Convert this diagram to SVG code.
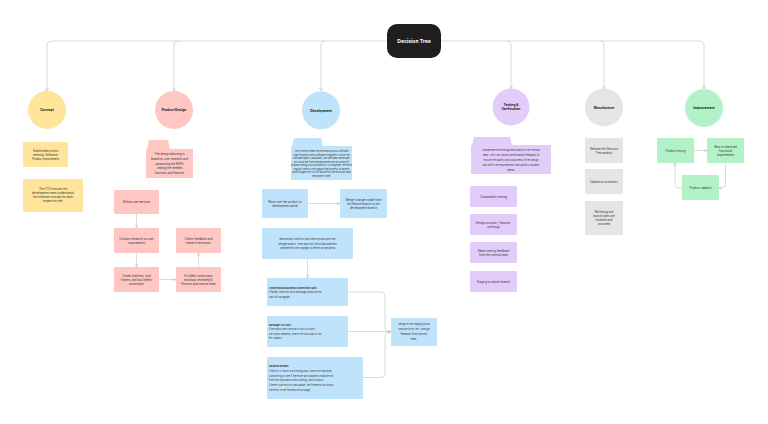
<svg xmlns="http://www.w3.org/2000/svg" width="768" height="424" viewBox="0 0 768 424">
<defs>
<marker id="ah" markerUnits="userSpaceOnUse" markerWidth="4" markerHeight="4" viewBox="0 0 4 4" refX="3.6" refY="2" orient="auto">
<path d="M0.4,0.4 L3.6,2 L0.4,3.6" fill="none" stroke="#b8b8b8" stroke-width="0.5"/>
</marker>
<style>
.c{stroke:#c2c2c2;stroke-width:0.6;fill:none}
.t{font-family:Inter,"Liberation Sans",sans-serif;font-size:2.8px;fill:#333;text-anchor:middle}
.s{font-size:2.45px}
.l{text-anchor:start}
.b{font-weight:bold}
.h{font-family:Inter,"Liberation Sans",sans-serif;font-size:3.3px;font-weight:bold;fill:#222;text-anchor:middle}
.y{fill:#FFE49C}.p{fill:#FFC7C3}.u{fill:#BFE3FB}.v{fill:#E2CCFA}.g{fill:#E5E5E5}.n{fill:#B3F2C9}
</style>
</defs>
<rect width="768" height="424" fill="#fff"/>

<g id="connectors">
<path class="c" marker-end="url(#ah)" d="M387,41 H51 Q47,41 47,45 V91"/>
<path class="c" marker-end="url(#ah)" d="M178,41 Q174,41 174,45 V91"/>
<path class="c" marker-end="url(#ah)" d="M325,41 Q321,41 321,45 V91"/>
<path class="c" marker-end="url(#ah)" d="M441,41 H700 Q704,41 704,45 V89"/>
<path class="c" marker-end="url(#ah)" d="M507,41 Q511,41 511,45 V88.5"/>
<path class="c" marker-end="url(#ah)" d="M600,41 Q604,41 604,45 V89"/>
<!-- product design -->
<path class="c" marker-end="url(#ah)" d="M136.5,214 V228"/>
<path class="c" marker-end="url(#ah)" d="M136.5,253 V267"/>
<path class="c" marker-end="url(#ah)" d="M159,279.5 H176"/>
<path class="c" marker-end="url(#ah)" d="M198.5,267 V253"/>
<!-- development -->
<path class="c" marker-end="url(#ah)" d="M308,203.5 H340"/>
<path class="c" marker-end="url(#ah)" d="M307.5,259 V278"/>
<path class="c" marker-end="url(#ah)" d="M348,292 H381 Q385,292 385,296 V328 Q385,332 389,332 H391"/>
<path class="c" marker-end="url(#ah)" d="M348,331.5 H391"/>
<path class="c" d="M363,377.5 H381 Q385,377.5 385,373.5 V336 Q385,332 389,332"/>
<!-- improvement -->
<path class="c" marker-end="url(#ah)" d="M694,150.5 H707"/>
<path class="c" marker-end="url(#ah)" d="M725.5,163 V184 Q725.5,188 721.5,188 H719"/>
<path class="c" marker-end="url(#ah)" d="M682,188 H679 Q675,188 675,184 V163"/>
</g>

<g id="title">
<rect x="387" y="24" width="54" height="34" rx="10" fill="#1E1E1E"/>
<text x="414" y="42.7" font-family="Inter,'Liberation Sans',sans-serif" font-size="5px" font-weight="bold" fill="#fff" text-anchor="middle">Decision Tree</text>
</g>

<g id="concept">
<circle class="y" cx="47" cy="110" r="19"/>
<text class="h" x="47" y="111.2">Concept</text>
</g>
<g id="concept-1">
<rect class="y" x="23" y="142" width="45" height="25" rx="1"/>
<text class="t" x="45.5" y="151.5">Stakeholders/client</text>
<text class="t" x="45.5" y="155.5">meeting: Software/</text>
<text class="t" x="45.5" y="159.5">Product requirement</text>
</g>
<g id="concept-2">
<rect class="y" x="23" y="179" width="60" height="33" rx="1"/>
<text class="t" x="53" y="190">The CTO ensures the</text>
<text class="t" x="53" y="194">development team understands</text>
<text class="t" x="53" y="198">the software concept for each</text>
<text class="t" x="53" y="202">respective role.</text>
</g>

<g id="product-design">
<circle class="p" cx="174" cy="110" r="19"/>
<text class="h" x="174" y="111.2">Product Design</text>
</g>
<g id="pd-note">
<path class="p" d="M147,149.5 L149,140 H168 L170,149.5 Z"/>
<rect class="p" x="146" y="149" width="47" height="29" rx="0.5"/>
<text class="t" x="169.5" y="155.1">The design planning is</text>
<text class="t" x="169.5" y="159.8">based on user research and</text>
<text class="t" x="169.5" y="164.5">pinpointing the MVPs</text>
<text class="t" x="169.5" y="169.2">among the needed</text>
<text class="t" x="169.5" y="173.9">functions and features</text>
</g>
<g id="pd-define">
<rect class="p" x="114" y="190" width="45" height="24" rx="1"/>
<text class="t" x="136.5" y="203">Define user persona</text>
</g>
<g id="pd-conduct">
<rect class="p" x="114" y="228" width="45" height="25" rx="1"/>
<text class="t" x="136.5" y="239.5">Conduct research on user</text>
<text class="t" x="136.5" y="243.5">requirements</text>
</g>
<g id="pd-create">
<rect class="p" x="114" y="267" width="45" height="25" rx="1"/>
<text class="t" x="136.5" y="276.5">Create sketches, wire</text>
<text class="t" x="136.5" y="280.5">frames, and low-fidelity</text>
<text class="t" x="136.5" y="284.5">prototypes</text>
</g>
<g id="pd-collect">
<rect class="p" x="176" y="228" width="45" height="25" rx="1"/>
<text class="t" x="198.5" y="239.5">Collect feedback and</text>
<text class="t" x="198.5" y="243.5">iterate if necessary</text>
</g>
<g id="pd-hifi">
<rect class="p" x="176" y="267" width="45" height="25" rx="1"/>
<text class="t" x="198.5" y="276.5">Hi-fidelity prototypes/</text>
<text class="t" x="198.5" y="280.5">mockups reviewed by</text>
<text class="t" x="198.5" y="284.5">Process and internal team</text>
</g>

<g id="development">
<circle class="u" cx="321" cy="110.5" r="19"/>
<text class="h" x="321" y="111.7">Development</text>
</g>
<g id="dev-note">
<path class="u" d="M292,146.5 L294,138 H321 L323,146.5 Z"/>
<rect class="u" x="291" y="146" width="61" height="34" rx="0.5"/>
<text class="t s" x="321.5" y="152">The Process team review and discuss software</text>
<text class="t s" x="321.5" y="155.6">specifications with Software Engineers. Once the</text>
<text class="t s" x="321.5" y="159.1">software plan is available, the software developer</text>
<text class="t s" x="321.5" y="162.7">will build the front end and execute the whole of</text>
<text class="t s" x="321.5" y="166.3">product design as provided by UX Engineer. Perform</text>
<text class="t s" x="321.5" y="169.9">regular checks throughout the process to assess</text>
<text class="t s" x="321.5" y="173.4">and mitigate the risk of failure for the end user and</text>
<text class="t s" x="321.5" y="177">the project itself.</text>
</g>
<g id="dev-move">
<rect class="u" x="262" y="189" width="46" height="29" rx="1"/>
<text class="t" x="285" y="202.5">Move over the product to</text>
<text class="t" x="285" y="206.5">development portal</text>
</g>
<g id="dev-merge">
<rect class="u" x="340" y="189" width="47" height="29" rx="1"/>
<text class="t" x="363.5" y="200.5">Merge changes made from</text>
<text class="t" x="363.5" y="204.5">the feature branch to the</text>
<text class="t" x="363.5" y="208.5">development branch</text>
</g>
<g id="dev-resolve">
<rect class="u" x="262" y="228" width="91" height="31" rx="1"/>
<text class="t s" x="307.5" y="240">Resolve any conflicts that come up and push the</text>
<text class="t s" x="307.5" y="244.7">merged branch. Then wait until the Gitlab pipelines</text>
<text class="t s" x="307.5" y="249.4">complete for the changes to reflect on devportal</text>
</g>
<g id="dev-frontend">
<rect class="u" x="267" y="278" width="81" height="28" rx="1"/>
<text class="t s l b" x="269" y="288.7">Frontend and Backend Connection Fails:</text>
<text class="t s l" x="269" y="293.3">If failed, there will be a message output at the</text>
<text class="t s l" x="269" y="298">start of a program.</text>
</g>
<g id="dev-message">
<rect class="u" x="267" y="316" width="81" height="31" rx="1"/>
<text class="t s l b" x="269" y="326">Message API Fails:</text>
<text class="t s l" x="269" y="330.4">If the back-end console is tuck in a GET-</text>
<text class="t s l" x="269" y="334.8">OPTIONS requests, check the MSG api or call</text>
<text class="t s l" x="269" y="339.2">for support.</text>
</g>
<g id="dev-backend">
<rect class="u" x="267" y="357" width="96" height="42" rx="1"/>
<text class="t s l b" x="269" y="367">Backend Breaks:</text>
<text class="t s l" x="269" y="371.8">If the DT is stuck in a running loop, check the backend</text>
<text class="t s l" x="269" y="376.6">console log to see if there are any problems that are not</text>
<text class="t s l" x="269" y="381.4">from the calculation step (setting, result output).</text>
<text class="t s l" x="269" y="386.2">If there is an error in calculation, the frontend will output</text>
<text class="t s l" x="269" y="391">the error in the frontend result page.</text>
</g>
<g id="dev-staging">
<rect class="u" x="391" y="318" width="46" height="28" rx="1"/>
<text class="t s" x="414" y="325.3">Merge to the staging portal</text>
<text class="t s" x="414" y="330">(resolve issue, etc.) and get</text>
<text class="t s" x="414" y="334.7">feedback from process</text>
<text class="t s" x="414" y="339.5">team.</text>
</g>

<g id="testing">
<circle class="v" cx="511" cy="107" r="18.5"/>
<text class="h" x="511" y="105.6">Testing &amp;</text>
<text class="h" x="511" y="109.8">Verification</text>
</g>
<g id="test-note">
<path class="v" d="M472,145.5 L474,137 H510 L512,145.5 Z"/>
<rect class="v" x="471" y="145" width="80" height="29" rx="0.5"/>
<text class="t s" x="511" y="151.3">Comprehensive testing takes place by the internal</text>
<text class="t s" x="511" y="156.2">team. The UXE collects performance feedback to</text>
<text class="t s" x="511" y="161.1">ensure the quality and robustness of the design</text>
<text class="t s" x="511" y="166">and verify the requirements that satisfy customer</text>
<text class="t s" x="511" y="170.9">needs.</text>
</g>
<g id="test-compat">
<rect class="v" x="470" y="186" width="47" height="21" rx="1"/>
<text class="t" x="493.5" y="197.5">Compatibility testing</text>
</g>
<g id="test-design">
<rect class="v" x="470" y="214" width="47" height="21" rx="1"/>
<text class="t" x="493.5" y="223.5">Design accuracy, features,</text>
<text class="t" x="493.5" y="227.5">and bugs</text>
</g>
<g id="test-report">
<rect class="v" x="470" y="242" width="47" height="21" rx="1"/>
<text class="t" x="493.5" y="251.5">Report testing feedback</text>
<text class="t" x="493.5" y="255.5">from the internal team</text>
</g>
<g id="test-staging">
<rect class="v" x="470" y="271" width="47" height="21" rx="1"/>
<text class="t" x="493.5" y="282.5">Staging to master branch</text>
</g>

<g id="manufacture">
<circle class="g" cx="604" cy="107.5" r="19"/>
<text class="h" x="604" y="108.7">Manufacture</text>
</g>
<g id="man-release">
<rect class="g" x="585" y="138" width="38" height="25" rx="1"/>
<text class="t" x="604" y="149.5">Release the Decision</text>
<text class="t" x="604" y="153.5">Tree product</text>
</g>
<g id="man-update">
<rect class="g" x="585" y="169" width="38" height="25" rx="1"/>
<text class="t" x="604" y="182.5">Update to customers</text>
</g>
<g id="man-marketing">
<rect class="g" x="585" y="201" width="38" height="34" rx="1"/>
<text class="t" x="604" y="213">Marketing and</text>
<text class="t" x="604" y="217">launch plans are</text>
<text class="t" x="604" y="221">finalised and</text>
<text class="t" x="604" y="225">activated</text>
</g>

<g id="improvement">
<circle class="n" cx="704" cy="108" r="19"/>
<text class="h" x="704" y="109.2">Improvement</text>
</g>
<g id="imp-testing">
<rect class="n" x="657" y="138" width="37" height="25" rx="1"/>
<text class="t" x="675.5" y="151.5">Product testing</text>
</g>
<g id="imp-new">
<rect class="n" x="707" y="138" width="37" height="25" rx="1"/>
<text class="t" x="725.5" y="147.5">New or improved</text>
<text class="t" x="725.5" y="151.5">functional</text>
<text class="t" x="725.5" y="155.5">requirements</text>
</g>
<g id="imp-updates">
<rect class="n" x="682" y="175" width="37" height="25" rx="1"/>
<text class="t" x="700.5" y="188.5">Product updates</text>
</g>
</svg>
